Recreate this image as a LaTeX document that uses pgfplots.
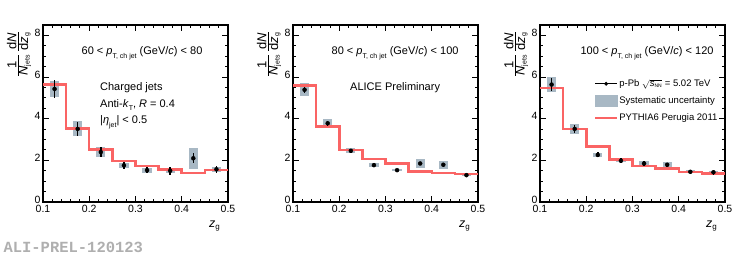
\documentclass[border=0pt]{standalone}
\usepackage{pgfplots}
\pgfplotsset{compat=1.18}
\usepackage{pgfplotstable}
\usepackage{fontspec}
\setmainfont{Liberation Sans}
\setmonofont{Liberation Mono}
\definecolor{pyred}{RGB}{250,100,100}
\definecolor{sysblue}{RGB}{168,184,196}
\definecolor{aligray}{RGB}{175,175,175}

\pgfplotstableread{
x y stat sys
0.125 5.43 0.42 0.40
0.175 3.51 0.35 0.36
0.225 2.40 0.24 0.22
0.275 1.76 0.16 0.12
0.325 1.53 0.13 0.12
0.375 1.50 0.20 0.10
0.425 2.10 0.25 0.50
0.475 1.57 0.18 0.12
}\dataA
\pgfplotstableread{
x y
0.10 5.64
0.15 3.54
0.20 2.53
0.25 1.98
0.30 1.72
0.35 1.56
0.40 1.40
0.45 1.53
0.50 1.53
}\pyA
\pgfplotstableread{
x y stat sys
0.125 5.39 0.15 0.32
0.175 3.78 0.12 0.20
0.225 2.46 0.10 0.12
0.275 1.77 0.08 0.10
0.325 1.53 0.07 0.05
0.375 1.85 0.09 0.20
0.425 1.79 0.10 0.20
0.475 1.29 0.07 0.05
}\dataB
\pgfplotstableread{
x y
0.10 5.59
0.15 3.62
0.20 2.50
0.25 2.06
0.30 1.85
0.35 1.47
0.40 1.40
0.45 1.35
0.50 1.35
}\pyB
\pgfplotstableread{
x y stat sys
0.125 5.64 0.30 0.35
0.175 3.51 0.20 0.25
0.225 2.26 0.12 0.10
0.275 1.98 0.12 0.08
0.325 1.85 0.10 0.12
0.375 1.79 0.10 0.12
0.425 1.45 0.09 0.08
0.475 1.43 0.12 0.08
}\dataC
\pgfplotstableread{
x y
0.10 5.48
0.15 3.51
0.20 2.66
0.25 2.05
0.30 1.74
0.35 1.60
0.40 1.45
0.45 1.37
0.50 1.37
}\pyC

\pgfplotsset{
  alicepanel/.style={
    scale only axis, width=185pt, height=177pt, anchor=south west,
    xmin=0.1, xmax=0.5, ymin=0, ymax=8.5,
    xtick={0.1,0.2,0.3,0.4,0.5}, ytick={0,2,4,6,8},
    minor x tick num=4, minor y tick num=3,
    tick align=inside, major tick length=6pt, minor tick length=3pt,
    axis line style={line width=1.5pt},
    every tick/.style={black, line width=1pt},
    /pgf/number format/assume math mode=true,
    tick label style={font=\fontsize{10.5}{12}\selectfont},
    xticklabel style={/pgf/number format/fixed, /pgf/number format/fixed zerofill, /pgf/number format/precision=1, yshift=0pt},
    yticklabel style={xshift=1pt, yshift=2.5pt},
    xlabel={\textit{z}\raisebox{-0.35ex}{\fontsize{8}{9}\selectfont g}},
    every axis x label/.style={at={(rel axis cs:0.975,-0.135)}, anchor=east, font=\fontsize{12.5}{14}\selectfont},
    ylabel={$\frac{\mbox{1}}{\mbox{\textit{N}}_{\mbox{\scriptsize jets}}}\,\frac{\mbox{d\textit{N}}}{\mbox{d\textit{z}}_{\mbox{\scriptsize g}}}$},
    every axis y label/.style={at={(rel axis cs:-0.13,0.985)}, rotate=90, anchor=east, font=\fontsize{13}{15}\selectfont},
  },
  sysplot/.style={only marks, mark size=0pt, forget plot,
    error bars/.cd, y dir=both, y explicit, error mark=none,
    error bar style={line width=9.25pt, draw=sysblue}},
  statplot/.style={only marks, mark=*, mark size=2pt, black, forget plot,
    error bars/.cd, y dir=both, y explicit, error mark=none,
    error bar style={line width=1.6pt, black}},
  pyplot/.style={const plot, color=pyred, line width=2.5pt, forget plot},
}

\newcommand{\ptbin}[2]{#1 < \textit{p}\raisebox{-0.6ex}{\fontsize{7}{8}\selectfont T, ch jet} (GeV/\textit{c}) < #2}

\begin{document}
\begin{tikzpicture}
\path[use as bounding box] (0,0) rectangle (747pt,255pt);

\begin{axis}[alicepanel, at={(43pt,53pt)}]
\addplot[sysplot] table[x=x,y=y,y error=sys] {\dataA};
\addplot[pyplot] table[x=x,y=y] {\pyA};
\addplot[statplot] table[x=x,y=y,y error=stat] {\dataA};
\node[anchor=west, font=\fontsize{11}{13}\selectfont] at (rel axis cs:0.19,0.84) {\ptbin{60}{80}};
\node[anchor=west, font=\fontsize{11}{13}\selectfont] at (rel axis cs:0.29,0.644) {Charged jets};
\node[anchor=west, font=\fontsize{11}{13}\selectfont] at (rel axis cs:0.29,0.548) {Anti-\textit{k}\raisebox{-0.5ex}{\fontsize{7}{8}\selectfont T}, \textit{R} = 0.4};
\node[anchor=west, font=\fontsize{11}{13}\selectfont] at (rel axis cs:0.29,0.452) {|\textit{η}\raisebox{-0.6ex}{\fontsize{7}{8}\selectfont jet}| < 0.5};
\end{axis}

\begin{axis}[alicepanel, at={(293pt,53pt)}]
\addplot[sysplot] table[x=x,y=y,y error=sys] {\dataB};
\addplot[pyplot] table[x=x,y=y] {\pyB};
\addplot[statplot] table[x=x,y=y,y error=stat] {\dataB};
\node[anchor=west, font=\fontsize{11}{13}\selectfont] at (rel axis cs:0.19,0.84) {\ptbin{80}{100}};
\node[anchor=west, font=\fontsize{11}{13}\selectfont] at (rel axis cs:0.29,0.644) {ALICE Preliminary};
\end{axis}

\begin{axis}[alicepanel, at={(540pt,53pt)},
  legend cell align=left,
  legend style={draw=none, fill=none, inner sep=0pt, at={(rel axis cs:0.29,0.70)}, anchor=north west,
    font=\fontsize{9.5}{11}\selectfont, row sep=6pt, nodes={inner sep=1pt}}]
\addlegendimage{legend image code/.code={\draw[black,line width=1.5pt] (0pt,0pt) -- (22pt,0pt); \fill[black] (11pt,0pt) circle (1.8pt);}}
\addlegendentry{p-Pb $\sqrt{\mbox{\textit{s}}_{\mbox{\tiny NN}}}$ = 5.02 TeV}
\addlegendimage{legend image code/.code={\fill[sysblue] (0pt,-5.5pt) rectangle (22pt,5.5pt);}}
\addlegendentry{Systematic uncertainty}
\addlegendimage{legend image code/.code={\draw[pyred,line width=2.5pt] (0pt,0pt) -- (22pt,0pt);}}
\addlegendentry{PYTHIA6 Perugia 2011}
\addplot[sysplot] table[x=x,y=y,y error=sys] {\dataC};
\addplot[pyplot] table[x=x,y=y] {\pyC};
\addplot[statplot] table[x=x,y=y,y error=stat] {\dataC};
\node[anchor=west, font=\fontsize{11}{13}\selectfont] at (rel axis cs:0.2,0.84) {\ptbin{100}{120}};
\end{axis}

\node[anchor=west, text=aligray, font=\ttfamily\bfseries\fontsize{15.5}{16}\selectfont] at (0pt,8pt) {ALI-PREL-120123};
\end{tikzpicture}
\end{document}
